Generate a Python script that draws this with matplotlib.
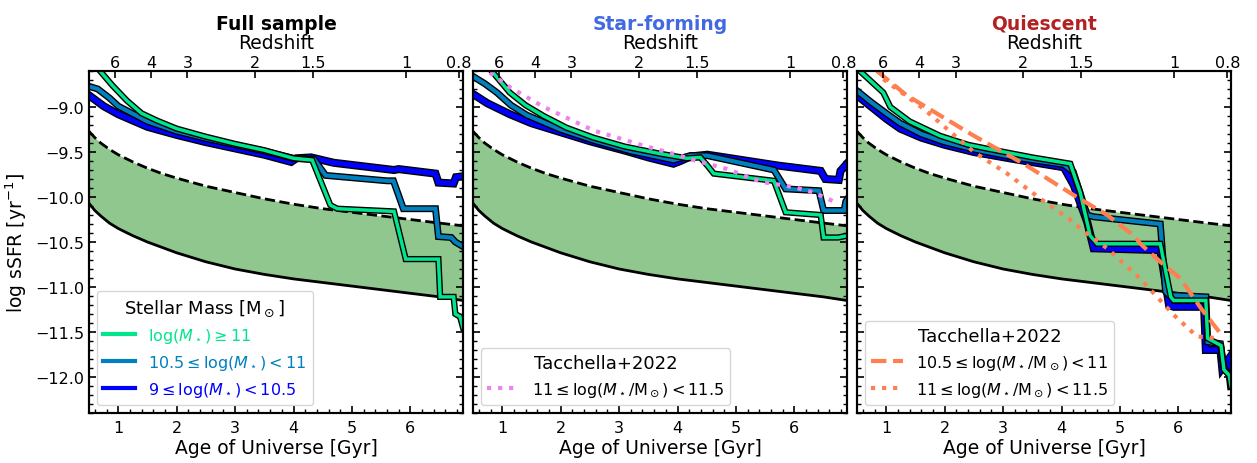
import numpy as np
import matplotlib
matplotlib.use('Agg')
from matplotlib import pyplot as plt
import matplotlib.patheffects as pe
from matplotlib.ticker import AutoMinorLocator

# sSFR thresholds vs age of universe [Gyr]
thr_age = [0.5, 0.6, 0.7, 0.85, 1.0, 1.25, 1.5, 1.75, 2.0, 2.5, 3.0, 3.5, 4.0, 4.5, 5.0, 5.5, 6.0, 6.5, 6.9]
thr_upper = [-9.27, -9.34, -9.40, -9.47, -9.53, -9.61, -9.68, -9.74, -9.79, -9.88, -9.95, -10.02,
             -10.08, -10.13, -10.17, -10.21, -10.25, -10.29, -10.32]
thr_lower = [-10.07, -10.15, -10.21, -10.29, -10.35, -10.43, -10.50, -10.56, -10.62, -10.72, -10.80,
             -10.86, -10.91, -10.95, -10.99, -11.03, -11.07, -11.11, -11.15]

# median sSFR histories, per sample and mass bin: (age, log sSFR)
full_hi_age = [0.69, 0.9, 1.15, 1.4, 1.66, 2.0, 2.5, 3.0, 3.5, 4.0, 4.32, 4.63, 4.75, 5.72, 5.92, 6.48,
               6.51, 6.74, 6.77, 6.85, 6.9]
full_hi_ssfr = [-8.6, -8.76, -8.93, -9.07, -9.15, -9.24, -9.33, -9.41, -9.48, -9.57, -9.59, -10.09, -10.13,
                -10.16, -10.69, -10.69, -11.11, -11.11, -11.30, -11.33, -11.45]
full_mid_age = [0.5, 0.65, 0.85, 1.0, 1.5, 2.0, 2.5, 3.0, 3.5, 4.0, 4.35, 4.55, 5.6, 5.71, 5.88, 6.43,
                6.48, 6.7, 6.77, 6.9]
full_mid_ssfr = [-8.77, -8.8, -8.9, -8.99, -9.16, -9.27, -9.35, -9.42, -9.49, -9.57, -9.58, -9.76, -9.82,
                 -9.82, -10.13, -10.13, -10.44, -10.45, -10.50, -10.55]
full_lo_age = [0.5, 0.75, 1.0, 1.5, 2.0, 2.5, 3.0, 3.5, 3.96, 4.05, 4.3, 4.69, 5.72, 5.8, 6.43, 6.48,
               6.74, 6.78, 6.9]
full_lo_ssfr = [-8.87, -8.99, -9.08, -9.22, -9.31, -9.39, -9.46, -9.53, -9.61, -9.57, -9.56, -9.62, -9.70,
                -9.69, -9.74, -9.84, -9.85, -9.78, -9.77]

sf_hi_age = [0.82, 0.95, 1.13, 1.4, 1.71, 2.1, 2.56, 3.1, 3.71, 4.16, 4.39, 4.51, 4.62, 5.65, 5.85, 6.45,
             6.5, 6.75, 6.9]
sf_hi_ssfr = [-8.6, -8.7, -8.84, -8.98, -9.10, -9.23, -9.34, -9.44, -9.52, -9.57, -9.56, -9.65, -9.74,
              -9.82, -10.17, -10.2, -10.45, -10.45, -10.43]
sf_mid_age = [0.5, 0.7, 0.91, 1.15, 1.42, 2.0, 2.56, 3.2, 3.93, 4.22, 4.51, 5.65, 5.85, 6.42, 6.5, 6.85,
              6.88, 6.9]
sf_mid_ssfr = [-8.66, -8.74, -8.84, -8.98, -9.09, -9.25, -9.37, -9.49, -9.59, -9.54, -9.54, -9.70, -9.91,
               -9.93, -10.15, -10.15, -10.05, -10.03]
sf_lo_age = [0.51, 0.75, 1.13, 1.5, 2.0, 2.5, 3.13, 3.5, 3.93, 4.05, 4.22, 4.51, 5.71, 6.45, 6.53, 6.76,
             6.79, 6.9]
sf_lo_ssfr = [-8.86, -8.96, -9.08, -9.18, -9.28, -9.38, -9.49, -9.56, -9.63, -9.60, -9.55, -9.53, -9.65,
              -9.71, -9.80, -9.81, -9.71, -9.63]

q_hi_age = [0.55, 0.75, 0.95, 1.07, 1.4, 1.92, 2.4, 2.78, 3.5, 4.15, 4.32, 4.49, 4.61, 5.69, 5.87, 5.92,
            6.47, 6.5, 6.73, 6.78, 6.87, 6.9]
q_hi_ssfr = [-8.6, -8.72, -8.84, -9.0, -9.16, -9.32, -9.42, -9.47, -9.56, -9.63, -9.95, -10.43, -10.52,
             -10.52, -11.11, -11.15, -11.15, -11.57, -11.65, -11.92, -11.98, -12.1]
q_mid_age = [0.5, 0.75, 1.0, 1.24, 1.6, 2.0, 2.5, 3.2, 4.04, 4.2, 4.44, 4.55, 5.69, 5.78, 5.84, 6.47,
             6.5, 6.72, 6.78, 6.9]
q_mid_ssfr = [-8.82, -8.95, -9.07, -9.18, -9.30, -9.39, -9.47, -9.56, -9.64, -9.72, -10.2, -10.22, -10.30,
              -11.05, -11.09, -11.11, -11.61, -11.63, -11.9, -12.0]
q_lo_age = [0.5, 0.75, 1.0, 1.24, 1.6, 2.0, 2.5, 3.2, 4.04, 4.21, 4.44, 4.55, 5.69, 5.84, 5.92, 6.44,
            6.47, 6.72, 6.75, 6.85, 6.9]
q_lo_ssfr = [-8.87, -9.0, -9.13, -9.24, -9.34, -9.42, -9.50, -9.58, -9.67, -9.87, -10.28, -10.57, -10.59,
             -11.2, -11.22, -11.22, -11.70, -11.70, -11.90, -11.81, -12.1]

# Tacchella+2022 tracks
t22_sf_age = [0.79, 1.13, 1.71, 2.56, 3.42, 3.99, 4.28, 4.85, 5.42, 5.99, 6.33, 6.71]
t22_sf_ssfr = [-8.62, -8.78, -9.0, -9.26, -9.43, -9.53, -9.59, -9.69, -9.83, -9.89, -9.95, -10.06]
t22_q_mid_age = [0.84, 1.35, 2.5, 3.35, 4.21, 4.78, 5.24, 5.35, 5.69, 6.04, 6.39, 6.70]
t22_q_mid_ssfr = [-8.6, -8.87, -9.32, -9.63, -9.98, -10.2, -10.43, -10.52, -10.72, -10.91, -11.24, -11.5]
t22_q_hi_age = [0.95, 1.64, 2.5, 3.07, 3.64, 4.21, 4.32, 4.78, 5.35, 5.92, 6.32, 6.70]
t22_q_hi_ssfr = [-8.69, -9.02, -9.5, -9.74, -10.02, -10.28, -10.35, -10.57, -10.91, -11.31, -11.55, -11.57]

z_ticks = [6, 4, 3, 2, 1.5, 1, 0.8]


def age_at_z(z, H0=70.0, Om=0.28):
    # flat LCDM age in Gyr
    OL = 1.0 - Om
    th = 977.8 / H0
    return 2.0 / 3.0 * th / np.sqrt(OL) * np.arcsinh(np.sqrt(OL / Om) * (1.0 + np.asarray(z)) ** -1.5)


cmap = plt.get_cmap('winter')
c_hi, c_mid, c_lo = cmap(0.9), cmap(0.5), cmap(0.0)
label_hi = r'$\log(M_\star) \geq 11$'
label_mid = r'$10.5 \leq \log(M_\star) < 11$'
label_lo = r'$9 \leq \log(M_\star) < 10.5$'


def outlined(ax, x, y, color, lw, **kw):
    line, = ax.plot(x, y, color=color, lw=lw, solid_joinstyle='miter', **kw)
    line.set_path_effects([pe.Stroke(linewidth=lw + 2.0, foreground='k'), pe.Normal()])
    return line


def draw_panel(ax, title, title_color, hi, mid, lo):
    ax.fill_between(thr_age, thr_lower, thr_upper, color='green', alpha=0.44, lw=0)
    ax.plot(thr_age, thr_upper, 'k--', lw=2)
    ax.plot(thr_age, thr_lower, 'k-', lw=2)
    outlined(ax, lo[0], lo[1], c_lo, 3.8)
    outlined(ax, mid[0], mid[1], c_mid, 3.0)
    outlined(ax, hi[0], hi[1], c_hi, 2.5)

    ax.set_xlim(0.5, 6.9)
    ax.set_ylim(-12.4, -8.6)
    ax.set_xticks([1, 2, 3, 4, 5, 6])
    ax.set_yticks([-12.0, -11.5, -11.0, -10.5, -10.0, -9.5, -9.0])
    ax.xaxis.set_minor_locator(AutoMinorLocator(5))
    ax.yaxis.set_minor_locator(AutoMinorLocator(5))
    ax.tick_params(which='both', direction='in', right=True, labelsize=11.5)
    ax.tick_params(axis='x', pad=5)
    ax.tick_params(which='major', length=5, width=1.2)
    ax.tick_params(which='minor', length=3, width=1)
    for s in ax.spines.values():
        s.set_linewidth(1.5)
    ax.set_xlabel('Age of Universe [Gyr]', fontsize=13.5, labelpad=2)

    top = ax.twiny()
    top.set_xlim(ax.get_xlim())
    top.set_xticks(age_at_z(z_ticks))
    top.set_xticklabels([str(z) for z in z_ticks])
    top.tick_params(direction='in', length=5, width=1.2, labelsize=11.5, pad=1)
    top.set_xlabel('Redshift', fontsize=13.5, labelpad=5)
    top.set_title(title, fontsize=13.5, fontweight='bold', color=title_color, pad=3)
    for s in top.spines.values():
        s.set_linewidth(1.5)
    return top


fig = plt.figure(figsize=(12.57, 4.64), dpi=100)
lefts = [0.0708, 0.3763, 0.6818]
axes = [fig.add_axes([l, 0.1078, 0.2975, 0.737]) for l in lefts]

draw_panel(axes[0], 'Full sample', 'black',
           (full_hi_age, full_hi_ssfr), (full_mid_age, full_mid_ssfr), (full_lo_age, full_lo_ssfr))
draw_panel(axes[1], 'Star-forming', 'royalblue',
           (sf_hi_age, sf_hi_ssfr), (sf_mid_age, sf_mid_ssfr), (sf_lo_age, sf_lo_ssfr))
draw_panel(axes[2], 'Quiescent', 'firebrick',
           (q_hi_age, q_hi_ssfr), (q_mid_age, q_mid_ssfr), (q_lo_age, q_lo_ssfr))

axes[0].set_ylabel(r'log sSFR [yr$^{-1}$]', fontsize=13.5)
axes[1].set_yticklabels([])
axes[2].set_yticklabels([])

# legend for mass bins
h = [axes[0].plot([], [], color=c, lw=3)[0] for c in (c_hi, c_mid, c_lo)]
axes[0].legend(h, [label_hi, label_mid, label_lo], loc='lower left',
               title=r'Stellar Mass [M$_\odot$]', fontsize=11.5, title_fontsize=13,
               labelcolor=[c_hi, c_mid, c_lo])

# Tacchella+2022 tracks
axes[1].plot(t22_sf_age, t22_sf_ssfr, color='violet', ls=':', lw=3,
             label=r'$11 \leq \log(M_\star/\mathrm{M}_\odot) < 11.5$')
axes[1].legend(loc='lower left', title='Tacchella+2022', fontsize=11.5, title_fontsize=13)

axes[2].plot(t22_q_mid_age, t22_q_mid_ssfr, color='coral', ls='--', lw=3,
             label=r'$10.5 \leq \log(M_\star/\mathrm{M}_\odot) < 11$')
axes[2].plot(t22_q_hi_age, t22_q_hi_ssfr, color='coral', ls=':', lw=3,
             label=r'$11 \leq \log(M_\star/\mathrm{M}_\odot) < 11.5$')
axes[2].legend(loc='lower left', title='Tacchella+2022', fontsize=11.5, title_fontsize=13)

fig.savefig('out.png', dpi=100)
